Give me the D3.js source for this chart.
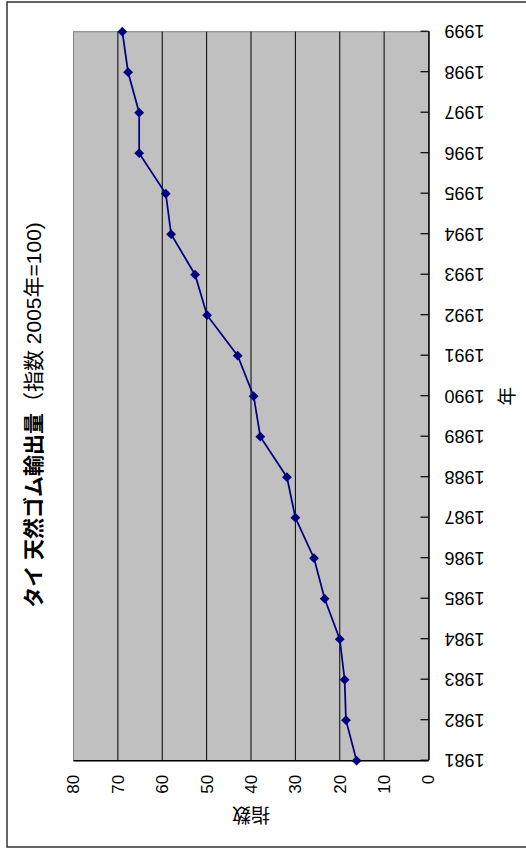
<!DOCTYPE html>
<html lang="ja">
<head>
<meta charset="utf-8">
<title>タイ 天然ゴム輸出量</title>
<style>
body{margin:0;background:#fff;}
svg text{font-family:"Liberation Sans", Arial, "Noto Sans CJK JP", sans-serif; fill:#000;}
</style>
</head>
<body>
<script src="https://cdn.jsdelivr.net/npm/d3@7"></script>
<script>

// data (index, 2005 = 100)
var years = [1981, 1982, 1983, 1984, 1985, 1986, 1987, 1988, 1989, 1990,
             1991, 1992, 1993, 1994, 1995, 1996, 1997, 1998, 1999];
var values = [16.2, 18.6, 18.9, 20.0, 23.4, 25.8, 30.0, 31.9, 37.9, 39.4,
              43.0, 49.9, 52.6, 58.0, 59.2, 65.2, 65.2, 67.7, 69.0];
var valueTicks = [0, 10, 20, 30, 40, 50, 60, 70, 80];
var titleBold = "タイ 天然ゴム輸出量";
var titleNormal = "（指数 2005年=100)";
var xTitle = "年";
var yTitle = "指数";

var w = 526;
var h = 850;
var svg = d3.select("body").append("svg").attr("width", w).attr("height", h);

// outer frame
svg.append("rect")
  .attr("x", 7).attr("y", 2).attr("width", 540).attr("height", 845)
  .attr("fill", "none").attr("stroke", "#333").attr("stroke-width", 1.5);

// the chart lies on its side: draw it flat (850 x 526) then turn it
var g = svg.append("g").attr("transform", "translate(0," + h + ") rotate(-90)");

var x = d3.scalePoint().domain(years).range([89.3, 818.3]);
var y = d3.scaleLinear().domain([0, 80]).range([428.5, 73.5]);

var x0 = x(years[0]), x1 = x(years[years.length - 1]);

// plot area
g.append("rect")
  .attr("x", x0).attr("y", y(80))
  .attr("width", x1 - x0).attr("height", y(0) - y(80))
  .attr("fill", "#c0c0c0").attr("stroke", "#808080").attr("stroke-width", 1);

// gridlines
g.selectAll("line.grid")
  .data(valueTicks.filter(function(d){ return d > 0 && d < 80; }))
  .enter().append("line")
  .attr("class", "grid")
  .attr("x1", x0).attr("x2", x1)
  .attr("y1", function(d){ return y(d); })
  .attr("y2", function(d){ return y(d); })
  .attr("stroke", "#000").attr("stroke-width", 1);

// category axis (ticks point inside)
var xAxis = g.append("g")
  .attr("transform", "translate(0," + y(0) + ")")
  .call(d3.axisBottom(x).tickSizeInner(-8).tickSizeOuter(0).tickFormat(""));
xAxis.select(".domain").attr("stroke", "#000").attr("stroke-width", 1.5);
xAxis.selectAll(".tick line").attr("stroke", "#000").attr("stroke-width", 1.2);

// value axis line
g.append("line")
  .attr("x1", x0).attr("x2", x0)
  .attr("y1", y(0)).attr("y2", y(80))
  .attr("stroke", "#000").attr("stroke-width", 1.5);

// year labels
g.selectAll("text.year")
  .data(years)
  .enter().append("text")
  .attr("class", "year")
  .attr("transform", function(d){ return "translate(" + x(d) + "," + (y(0) + 16) + ") rotate(-90)"; })
  .attr("text-anchor", "end")
  .attr("dy", "0.35em")
  .attr("font-size", "18px")
  .text(function(d){ return d; });

// value labels
g.selectAll("text.val")
  .data(valueTicks)
  .enter().append("text")
  .attr("class", "val")
  .attr("x", x0 - 14)
  .attr("y", function(d){ return y(d); })
  .attr("text-anchor", "end")
  .attr("dy", "0.35em")
  .attr("font-size", "17px")
  .text(function(d){ return d; });

// axis titles
g.append("text")
  .attr("transform", "translate(36," + ((y(0) + y(80)) / 2) + ") rotate(-90)")
  .attr("text-anchor", "middle")
  .attr("dominant-baseline", "central")
  .attr("font-size", "19px")
  .text(yTitle);

g.append("text")
  .attr("x", (x0 + x1) / 2)
  .attr("y", 507)
  .attr("text-anchor", "middle")
  .attr("dominant-baseline", "central")
  .attr("font-size", "19px")
  .text(xTitle);

// chart title
var t = g.append("text")
  .attr("x", 435)
  .attr("y", 33)
  .attr("text-anchor", "middle")
  .attr("dominant-baseline", "central")
  .attr("font-size", "21px");
t.append("tspan").attr("font-weight", "bold").text(titleBold);
t.append("tspan").text(titleNormal);

// series
var line = d3.line()
  .x(function(d, i){ return x(years[i]); })
  .y(function(d){ return y(d); });

g.append("path")
  .datum(values)
  .attr("d", line)
  .attr("fill", "none")
  .attr("stroke", "#000080")
  .attr("stroke-width", 1.75);

g.selectAll("path.mark")
  .data(values)
  .enter().append("path")
  .attr("class", "mark")
  .attr("d", d3.symbol().type(d3.symbolSquare).size(48))
  .attr("transform", function(d, i){ return "translate(" + x(years[i]) + "," + y(d) + ") rotate(45)"; })
  .attr("fill", "#000080");

</script>
</body>
</html>
